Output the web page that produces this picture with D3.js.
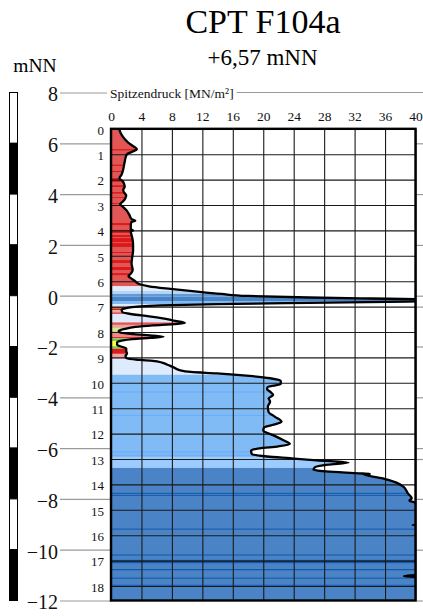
<!DOCTYPE html>
<html>
<head>
<meta charset="utf-8">
<script src="https://cdn.jsdelivr.net/npm/d3@7"></script>
<style>
  html, body { margin: 0; padding: 0; background: #fff; }
  svg { display: block; }
  svg text { font-family: "Liberation Serif", "Times New Roman", serif !important; }
</style>
</head>
<body>
<svg id="chart" width="423" height="616"></svg>
<script>
// ---- data -------------------------------------------------------------
const groundLevel = 6.57;                       // m NN at top of sounding
const elevTicks  = d3.range(8, -13, -2);        // m NN
const depthTicks = d3.range(0, 19, 1);          // m below ground
const qcTicks    = d3.range(0, 41, 4);          // MN/m²

// cone resistance profile: depth [m] and qc [MN/m²]
const depth = [
  0.00, 0.12, 0.24, 0.40, 0.55, 0.68, 0.80, 0.90, 1.00, 1.15, 1.30, 1.45, 1.60, 1.80, 1.95,
  2.05, 2.15, 2.28, 2.40, 2.50, 2.62, 2.72, 2.85, 2.97, 3.05, 3.20, 3.38, 3.55, 3.62, 3.66,
  3.80, 3.96, 4.00, 4.04, 4.18, 4.38, 4.60, 4.80, 5.03, 5.30, 5.56, 5.70, 5.80, 5.88, 5.98,
  6.06, 6.12, 6.20, 6.30, 6.40, 6.50, 6.58, 6.64, 6.68, 6.71, 6.75, 6.80, 6.85, 6.90, 6.95,
  7.00, 7.06, 7.12, 7.22, 7.30, 7.38, 7.46, 7.55, 7.64, 7.69, 7.74, 7.80, 7.88, 7.96, 8.02,
  8.08, 8.14, 8.19, 8.23, 8.28, 8.34, 8.40, 8.50, 8.58, 8.64, 8.75, 8.85, 8.95, 9.04, 9.10,
  9.14, 9.20, 9.30, 9.40, 9.50, 9.57, 9.63, 9.73, 9.82, 9.92, 10.05, 10.16, 10.25, 10.35, 10.48,
  10.61, 10.74, 10.94, 11.15, 11.33, 11.53, 11.66, 11.76, 11.88, 12.06, 12.25, 12.41, 12.50, 12.58, 12.66,
  12.80, 12.90, 12.97, 13.05, 13.14, 13.22, 13.32, 13.42, 13.50, 13.57, 13.585, 13.60, 13.76, 13.93, 14.09,
  14.35, 14.55, 14.64, 14.70, 14.80, 15.00, 15.55, 15.60, 15.65, 17.55, 17.60, 17.63, 17.66, 18.57
];
const qc = [
  1.1, 1.2, 1.4, 1.8, 2.3, 2.9, 3.4, 2.8, 2.1, 1.9, 1.8, 1.7, 1.6, 1.4, 1.1,
  1.5, 1.7, 1.8, 1.6, 1.7, 2.0, 1.9, 1.6, 1.2, 1.5, 2.0, 2.4, 2.7, 3.2, 2.7,
  2.6, 2.6, 2.9, 2.6, 2.7, 2.85, 2.9, 2.9, 2.8, 2.7, 2.85, 2.6, 2.3, 2.6, 3.1,
  3.4, 3.8, 5.0, 7.8, 11.0, 14.5, 18.0, 26.0, 34.0, 40.5, 43.0, 39.0, 26.0, 14.0, 6.5,
  3.5, 2.0, 1.4, 1.5, 2.8, 5.0, 6.8, 8.2, 9.7, 8.2, 5.5, 3.2, 1.8, 1.0, 1.2,
  3.0, 5.6, 6.9, 5.2, 2.8, 1.4, 0.8, 0.8, 1.4, 2.0, 2.0, 2.1, 1.9, 2.1, 3.8,
  5.5, 6.7, 7.5, 8.3, 9.0, 10.5, 13.9, 18.2, 20.9, 22.3, 22.3, 20.6, 20.5, 20.9, 21.3,
  20.7, 20.9, 20.6, 20.7, 21.5, 22.4, 21.2, 20.1, 20.0, 21.3, 22.6, 23.5, 22.0, 19.5, 18.4,
  18.5, 20.5, 23.5, 27.0, 31.2, 28.5, 26.8, 26.6, 28.7, 33.0, 34.0, 33.2, 35.7, 37.5, 38.4,
  39.0, 39.5, 39.2, 39.8, 40.5, 42.0, 42.0, 39.6, 42.0, 42.0, 38.5, 38.5, 42.0, 42.0
];

// soil behaviour layers (depth from / to, class)
const layerTop = [
  0.00, 0.80, 1.41, 1.66, 1.94, 2.22, 2.49, 2.69, 2.92, 3.71, 3.98, 4.18, 4.30, 4.50, 4.85, 5.17, 5.44, 5.68,
  6.20, 6.38, 6.50, 6.60, 6.78, 6.90, 7.02, 7.06, 7.14, 7.22, 7.30, 7.62, 7.72, 7.83, 7.86, 7.98, 8.20,
  8.25, 8.36, 8.56, 8.66, 8.86, 9.05, 9.68, 10.34, 11.26, 12.70, 12.83, 12.95, 13.35,
  14.33, 14.41, 15.74, 16.76, 16.97, 17.33, 17.67, 17.95
];
const layerBase = [
  6.20, 0.85, 1.46, 1.70, 2.09, 2.29, 2.55, 2.72, 2.96, 3.79, 4.10, 4.26, 4.46, 4.65, 4.89, 5.28, 5.56, 5.76,
  6.38, 6.50, 6.60, 6.78, 6.90, 7.02, 7.14, 7.08, 7.22, 7.30, 7.62, 7.72, 7.83, 7.86, 7.98, 8.20, 8.25,
  8.36, 8.56, 8.66, 8.86, 9.05, 9.68, 12.95, 10.38, 11.30, 12.74, 12.87, 13.35, 18.57,
  14.37, 14.45, 15.78, 16.80, 17.10, 17.38, 17.71, 17.99
];
const layerClass = [
  "clay", "clayStrong", "clayStrong", "clayStrong", "clayStrong", "clayStrong", "clayStrong", "clayStrong", "clayStrong",
  "clayStrong", "clayStrong", "clayStrong", "clayStrong", "clayStrong", "clayStrong", "clayStrong", "clayStrong", "clayStrong",
  "sandPale", "sandFaint", "sandMid", "sandDense", "sand", "sandPale", "clayStrong", "silt", "clayLight", "clay",
  "sandPale", "clay", "clayLight", "silt", "siltSand", "claySalmon", "clayStrong",
  "silt", "sandSilt", "silt", "clayStrong", "clayLight", "sandPale", "sand", "sandBright", "sandBright", "sandBright", "sandBright",
  "sandLight", "sandDense",
  "sandDark", "sandDark", "sandDark", "sandDark", "sandDark", "sandDark", "sandDark", "sandDark"
];

const classColor = {
  clay: "#e25656", clayStrong: "#dc1a1a", clayLight: "#f3a2a2", claySalmon: "#f08888",
  silt: "#6fcc50", siltSand: "#cdf27c", sandSilt: "#ffff3c",
  sandPale: "#deebfc", sandFaint: "#b6d4f6", sandMid: "#5e9bdb", sandDense: "#4a84c6",
  sand: "#80bbf6", sandBright: "#68acfb", sandLight: "#9ccbfd", sandDark: "#1458a8"
};

// ---- scales -----------------------------------------------------------
const serif = "Liberation Serif";
const svg = d3.select("#chart");
const elevY  = d3.scaleLinear().domain([8, -12]).range([92.5, 600.5]);
const depthY = d3.scaleLinear().domain([0, groundLevel + 12]).range([elevY(groundLevel), elevY(-12)]);
const qcX    = d3.scaleLinear().domain([0, 40]).range([111, 415.5]);

const pL = qcX(0), pR = qcX(40), pT = depthY(0), pB = elevY(-12);
const plotW = pR - pL, plotH = pB - pT;

const profile = depth.map((d, i) => ({ d, q: qc[i] }));
const layers = layerTop.map((t, i) => ({ t, b: layerBase[i], c: layerClass[i] }));

// ---- titles -----------------------------------------------------------
svg.append("text").attr("x", 263).attr("y", 33).attr("text-anchor", "middle")
  .style("font-size", "34px").text("CPT F104a");
svg.append("text").attr("x", 262.5).attr("y", 65).attr("text-anchor", "middle")
  .style("font-size", "23px").text("+6,57 mNN");
svg.append("text").attr("x", 35).attr("y", 72).attr("text-anchor", "middle")
  .style("font-size", "19.5px").text("mNN");

// ---- elevation scale bar ---------------------------------------------
svg.append("g").selectAll("rect")
  .data(elevTicks.slice(0, -1))
  .join("rect")
  .attr("x", 9.5).attr("width", 8)
  .attr("y", v => elevY(v))
  .attr("height", v => elevY(v - 2) - elevY(v))
  .attr("fill", (v, i) => i % 2 ? "#000" : "#fff")
  .attr("stroke", "#000").attr("stroke-width", 1);

// ---- elevation axis (left) -------------------------------------------
const elevAxis = svg.append("g").attr("transform", `translate(${pL},0)`)
  .call(d3.axisLeft(elevY).tickValues(elevTicks).tickSize(51).tickPadding(2).tickFormat(d3.format("d")));
elevAxis.attr("font-family", serif);
elevAxis.select(".domain").remove();
elevAxis.selectAll("line").attr("stroke", "#9a9a9a").attr("stroke-width", 1.2);
elevAxis.selectAll("text").style("font-size", "20px").attr("fill", "#111").attr("dy", "0.42em");

// short stubs on the right edge
const stubs = svg.append("g").attr("transform", `translate(${pR},0)`)
  .call(d3.axisRight(elevY).tickValues(elevTicks.slice(1)).tickSize(8).tickFormat(""));
stubs.select(".domain").remove();
stubs.selectAll("line").attr("stroke", "#9a9a9a").attr("stroke-width", 1.2);
const stubs2 = svg.append("g").attr("transform", `translate(${pR},0)`)
  .call(d3.axisRight(depthY).tickValues([7, 13]).tickSize(8).tickFormat(""));
stubs2.select(".domain").remove();
stubs2.selectAll("line").attr("stroke", "#9a9a9a").attr("stroke-width", 1.2);

// ---- qc axis title on the 8 m line ------------------------------------
const titleY = elevY(8);
const titleBg = svg.append("rect");
const qcTitle = svg.append("text").attr("x", 110).attr("y", titleY + 5)
  .style("font-size", "13.5px").attr("fill", "#111").text("Spitzendruck [MN/m²]");
const tw = qcTitle.node().getComputedTextLength();
titleBg.attr("x", 107).attr("y", titleY - 3).attr("width", tw + 5).attr("height", 6).attr("fill", "#fff");
svg.append("line").attr("x1", 110 + tw + 3).attr("x2", 423).attr("y1", titleY).attr("y2", titleY)
  .attr("stroke", "#9a9a9a").attr("stroke-width", 1.2);

// ---- clip paths --------------------------------------------------------
const defs = svg.append("defs");
defs.append("clipPath").attr("id", "plotClip")
  .append("rect").attr("x", pL).attr("y", pT).attr("width", plotW).attr("height", plotH);

const area = d3.area()
  .y(p => depthY(p.d))
  .x0(qcX(0))
  .x1(p => qcX(p.q))
  .curve(d3.curveMonotoneY);
defs.append("clipPath").attr("id", "soilClip")
  .append("path").attr("d", area(profile));

// ---- plot background + soil layers ------------------------------------
svg.append("rect").attr("x", pL).attr("y", pT).attr("width", plotW).attr("height", plotH)
  .attr("fill", "#fff");

svg.append("g").attr("clip-path", "url(#plotClip)")
  .append("g").attr("clip-path", "url(#soilClip)")
  .selectAll("rect")
  .data(layers)
  .join("rect")
  .attr("x", pL).attr("width", plotW)
  .attr("y", l => depthY(l.t))
  .attr("height", l => Math.max(0.6, depthY(l.b) - depthY(l.t)))
  .attr("fill", l => classColor[l.c]);

// ---- grid --------------------------------------------------------------
const vGrid = svg.append("g").attr("transform", `translate(0,${pT})`)
  .call(d3.axisBottom(qcX).tickValues(qcTicks).tickSize(plotH).tickFormat(""));
vGrid.select(".domain").remove();
vGrid.selectAll("line").attr("stroke", "#1a1a1a").attr("stroke-width", 1.1);

const hGrid = svg.append("g").attr("transform", `translate(${pL},0)`)
  .call(d3.axisRight(depthY).tickValues(depthTicks).tickSize(plotW).tickFormat(""));
hGrid.select(".domain").remove();
hGrid.selectAll("line").attr("stroke", "#1a1a1a").attr("stroke-width", 1.1);

// ---- qc profile line ---------------------------------------------------
const line = d3.line()
  .y(p => depthY(p.d))
  .x(p => qcX(p.q))
  .curve(d3.curveMonotoneY);
svg.append("g").attr("clip-path", "url(#plotClip)")
  .append("path").attr("d", line(profile))
  .attr("fill", "none").attr("stroke", "#000").attr("stroke-width", 2.3)
  .attr("stroke-linejoin", "round");

// ---- frame -------------------------------------------------------------
svg.append("rect").attr("x", pL).attr("y", pT).attr("width", plotW).attr("height", plotH)
  .attr("fill", "none").attr("stroke", "#000").attr("stroke-width", 2.4);

// ---- axis labels -------------------------------------------------------
const qcAxis = svg.append("g").attr("transform", `translate(0,${pT})`)
  .call(d3.axisTop(qcX).tickValues(qcTicks).tickSize(0).tickPadding(8));
qcAxis.attr("font-family", serif);
qcAxis.select(".domain").remove();
qcAxis.selectAll("text").style("font-size", "13.5px").attr("fill", "#111");

const depthAxis = svg.append("g").attr("transform", `translate(${pL},0)`)
  .call(d3.axisLeft(depthY).tickValues(depthTicks).tickSize(0).tickPadding(7));
depthAxis.attr("font-family", serif);
depthAxis.select(".domain").remove();
depthAxis.selectAll("text").style("font-size", "13px").attr("fill", "#111").attr("dy", "0.4em");
</script>
</body>
</html>
